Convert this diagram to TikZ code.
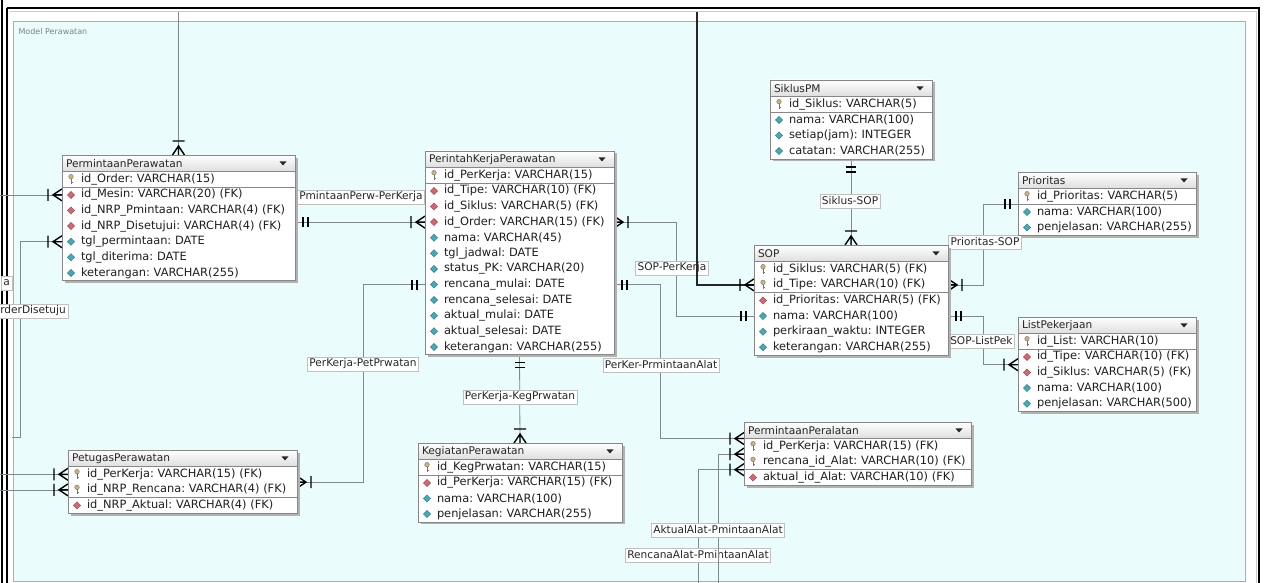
\documentclass[tikz,border=0pt]{standalone}
\usepackage{fontspec}
\setmainfont{DejaVu Sans}
\usetikzlibrary{positioning, fit, shadows}
\frenchspacing

\definecolor{modelbg}{RGB}{234,252,252}
\definecolor{framegray}{RGB}{170,176,176}
\definecolor{relgray}{RGB}{128,138,140}
\definecolor{boxgray}{RGB}{135,135,135}
\definecolor{fkred}{RGB}{205,105,115}
\definecolor{colteal}{RGB}{72,168,182}
\definecolor{keygold}{RGB}{200,180,120}

\pgfdeclarelayer{back}
\pgfdeclarelayer{edges}
\pgfdeclarelayer{boxes}
\pgfsetlayers{back,edges,boxes,main}

\tikzset{
  tablebox/.style={draw=boxgray, fill=white, inner sep=0pt, line width=0.8pt,
    drop shadow={shadow xshift=2.5pt, shadow yshift=-2.5pt, fill=black!30, opacity=1}},
  header/.style={anchor=north west, draw=boxgray, line width=0.8pt, top color=white, bottom color=black!13,
    minimum height=16.5pt, inner xsep=0pt, inner ysep=0pt, outer sep=0pt, align=left,
    font=\fontsize{10.6}{12}\selectfont, text=black!85,
    execute at begin node={\hspace*{4pt}},
    path picture={\fill[black!85] ([xshift=-12pt]path picture bounding box.east) +(-3.5,-1.8) -- +(3.5,-1.8) -- +(0,2.2) -- cycle;}},
  rowbase/.style={minimum height=15.6pt, inner xsep=0pt, inner ysep=0pt, outer sep=0pt, align=left,
    font=\fontsize{11.4}{13}\selectfont, text=black!88,
    execute at begin node={\hspace*{19pt}}},
  keyrow/.style={rowbase, path picture={
    \draw[black!55, line width=0.9pt] ([xshift=9pt,yshift=0.5pt]path picture bounding box.west) -- ++(0,5) ++(0,-1.6) -- ++(1.8,0);
    \filldraw[fill=keygold, draw=black!55, line width=0.4pt] ([xshift=9pt,yshift=2.6pt]path picture bounding box.west) circle[radius=2.3pt];}},
  fkrow/.style={rowbase, path picture={
    \filldraw[fill=fkred, draw=fkred!70!black, line width=0.4pt] ([xshift=9pt]path picture bounding box.west) +(-3.6,0) -- +(0,-3.6) -- +(3.6,0) -- +(0,3.6) -- cycle;}},
  colrow/.style={rowbase, path picture={
    \filldraw[fill=colteal, draw=colteal!70!black, line width=0.4pt] ([xshift=9pt]path picture bounding box.west) +(-3.6,0) -- +(0,-3.6) -- +(3.6,0) -- +(0,3.6) -- cycle;}},
  sepline/.style={draw=boxgray, line width=0.7pt},
  rel/.style={draw=relgray, line width=0.8pt},
  rlabel/.style={fill=white, draw=black!25, line width=0.5pt, inner xsep=2pt, inner ysep=1.5pt,
    minimum height=14.5pt, font=\fontsize{10.6}{12}\selectfont, text=black!85},
  ermark/.style={draw=black, line width=1.4pt},
  onlyone/.pic={\draw[ermark] (8,-5) -- (8,5) (13,-5) -- (13,5);},
  onemany/.pic={\draw[ermark] (0,-6) -- (9,0) -- (0,6) (0,0) -- (9,0) (14,-6) -- (14,6);}
}

\begin{document}
\begin{tikzpicture}[x=1pt, y=-1pt]
\useasboundingbox (0,0) rectangle (1266,583);

% The model area
\begin{pgfonlayer}{back}
\draw[black, line width=2pt] (7,8) -- (1259,8) -- (1259,600);
\draw[black, line width=2pt] (7,8) -- (7,600);
\draw[black, line width=1.6pt] (2,0) -- (2,600);
\draw[black!20, line width=1pt] (10,12) -- (1256,12) -- (1256,600);
\draw[framegray, fill=modelbg, line width=0.7pt] (13,21.5) rectangle (1245,581);
\node[anchor=north west, font=\fontsize{8}{10}\selectfont, text=black!50] (model) at (15,25) {Model Perawatan};
\end{pgfonlayer}

% PermintaanPerawatan
\begin{scope}[every node/.append style={text width=233pt}]
\node[header] (ppw) at (62,155) {PermintaanPerawatan};
\node[keyrow, below=0pt of ppw] (ppw-1) {id\_Order: VARCHAR(15)};
\node[fkrow, below=0pt of ppw-1] (ppw-2) {id\_Mesin: VARCHAR(20) (FK)};
\node[fkrow, below=0pt of ppw-2] (ppw-3) {id\_NRP\_Pmintaan: VARCHAR(4) (FK)};
\node[fkrow, below=0pt of ppw-3] (ppw-4) {id\_NRP\_Disetujui: VARCHAR(4) (FK)};
\node[colrow, below=0pt of ppw-4] (ppw-5) {tgl\_permintaan: DATE};
\node[colrow, below=0pt of ppw-5] (ppw-6) {tgl\_diterima: DATE};
\node[colrow, below=0pt of ppw-6] (ppw-7) {keterangan: VARCHAR(255)};
\end{scope}
\draw[sepline] (ppw-1.south west) -- (ppw-1.south east);
\begin{pgfonlayer}{boxes}
\node[tablebox, fit=(ppw)(ppw-7)] (ppw-box) {};
\end{pgfonlayer}

% PerintahKerjaPerawatan
\begin{scope}[every node/.append style={text width=189pt}]
\node[header] (pkp) at (425,151) {PerintahKerjaPerawatan};
\node[keyrow, below=0pt of pkp] (pkp-1) {id\_PerKerja: VARCHAR(15)};
\node[fkrow, below=0pt of pkp-1] (pkp-2) {id\_Tipe: VARCHAR(10) (FK)};
\node[fkrow, below=0pt of pkp-2] (pkp-3) {id\_Siklus: VARCHAR(5) (FK)};
\node[fkrow, below=0pt of pkp-3] (pkp-4) {id\_Order: VARCHAR(15) (FK)};
\node[colrow, below=0pt of pkp-4] (pkp-5) {nama: VARCHAR(45)};
\node[colrow, below=0pt of pkp-5] (pkp-6) {tgl\_jadwal: DATE};
\node[colrow, below=0pt of pkp-6] (pkp-7) {status\_PK: VARCHAR(20)};
\node[colrow, below=0pt of pkp-7] (pkp-8) {rencana\_mulai: DATE};
\node[colrow, below=0pt of pkp-8] (pkp-9) {rencana\_selesai: DATE};
\node[colrow, below=0pt of pkp-9] (pkp-10) {aktual\_mulai: DATE};
\node[colrow, below=0pt of pkp-10] (pkp-11) {aktual\_selesai: DATE};
\node[colrow, below=0pt of pkp-11] (pkp-12) {keterangan: VARCHAR(255)};
\end{scope}
\draw[sepline] (pkp-1.south west) -- (pkp-1.south east);
\begin{pgfonlayer}{boxes}
\node[tablebox, fit=(pkp)(pkp-12)] (pkp-box) {};
\end{pgfonlayer}

% SiklusPM
\begin{scope}[every node/.append style={text width=162pt}]
\node[header] (sik) at (770,80) {SiklusPM};
\node[keyrow, below=0pt of sik] (sik-1) {id\_Siklus: VARCHAR(5)};
\node[colrow, below=0pt of sik-1] (sik-2) {nama: VARCHAR(100)};
\node[colrow, below=0pt of sik-2] (sik-3) {setiap(jam): INTEGER};
\node[colrow, below=0pt of sik-3] (sik-4) {catatan: VARCHAR(255)};
\end{scope}
\draw[sepline] (sik-1.south west) -- (sik-1.south east);
\begin{pgfonlayer}{boxes}
\node[tablebox, fit=(sik)(sik-4)] (sik-box) {};
\end{pgfonlayer}

% SOP
\begin{scope}[every node/.append style={text width=194pt}]
\node[header] (sop) at (754,245) {SOP};
\node[keyrow, below=0pt of sop] (sop-1) {id\_Siklus: VARCHAR(5) (FK)};
\node[keyrow, below=0pt of sop-1] (sop-2) {id\_Tipe: VARCHAR(10) (FK)};
\node[fkrow, below=0pt of sop-2] (sop-3) {id\_Prioritas: VARCHAR(5) (FK)};
\node[colrow, below=0pt of sop-3] (sop-4) {nama: VARCHAR(100)};
\node[colrow, below=0pt of sop-4] (sop-5) {perkiraan\_waktu: INTEGER};
\node[colrow, below=0pt of sop-5] (sop-6) {keterangan: VARCHAR(255)};
\end{scope}
\draw[sepline] (sop-2.south west) -- (sop-2.south east);
\begin{pgfonlayer}{boxes}
\node[tablebox, fit=(sop)(sop-6)] (sop-box) {};
\end{pgfonlayer}

% Prioritas
\begin{scope}[every node/.append style={text width=178pt}]
\node[header] (pri) at (1018,172) {Prioritas};
\node[keyrow, below=0pt of pri] (pri-1) {id\_Prioritas: VARCHAR(5)};
\node[colrow, below=0pt of pri-1] (pri-2) {nama: VARCHAR(100)};
\node[colrow, below=0pt of pri-2] (pri-3) {penjelasan: VARCHAR(255)};
\end{scope}
\draw[sepline] (pri-1.south west) -- (pri-1.south east);
\begin{pgfonlayer}{boxes}
\node[tablebox, fit=(pri)(pri-3)] (pri-box) {};
\end{pgfonlayer}

% ListPekerjaan
\begin{scope}[every node/.append style={text width=178pt}]
\node[header] (lpk) at (1018,317) {ListPekerjaan};
\node[keyrow, below=0pt of lpk] (lpk-1) {id\_List: VARCHAR(10)};
\node[fkrow, below=0pt of lpk-1] (lpk-2) {id\_Tipe: VARCHAR(10) (FK)};
\node[fkrow, below=0pt of lpk-2] (lpk-3) {id\_Siklus: VARCHAR(5) (FK)};
\node[colrow, below=0pt of lpk-3] (lpk-4) {nama: VARCHAR(100)};
\node[colrow, below=0pt of lpk-4] (lpk-5) {penjelasan: VARCHAR(500)};
\end{scope}
\draw[sepline] (lpk-1.south west) -- (lpk-1.south east);
\begin{pgfonlayer}{boxes}
\node[tablebox, fit=(lpk)(lpk-5)] (lpk-box) {};
\end{pgfonlayer}

% PermintaanPeralatan
\begin{scope}[every node/.append style={text width=227pt}]
\node[header] (ppl) at (744,422) {PermintaanPeralatan};
\node[keyrow, below=0pt of ppl] (ppl-1) {id\_PerKerja: VARCHAR(15) (FK)};
\node[keyrow, below=0pt of ppl-1] (ppl-2) {rencana\_id\_Alat: VARCHAR(10) (FK)};
\node[fkrow, below=0pt of ppl-2] (ppl-3) {aktual\_id\_Alat: VARCHAR(10) (FK)};
\end{scope}
\draw[sepline] (ppl-2.south west) -- (ppl-2.south east);
\begin{pgfonlayer}{boxes}
\node[tablebox, fit=(ppl)(ppl-3)] (ppl-box) {};
\end{pgfonlayer}

% KegiatanPerawatan
\begin{scope}[every node/.append style={text width=204pt}]
\node[header] (kgp) at (418,443) {KegiatanPerawatan};
\node[keyrow, below=0pt of kgp] (kgp-1) {id\_KegPrwatan: VARCHAR(15)};
\node[fkrow, below=0pt of kgp-1] (kgp-2) {id\_PerKerja: VARCHAR(15) (FK)};
\node[colrow, below=0pt of kgp-2] (kgp-3) {nama: VARCHAR(100)};
\node[colrow, below=0pt of kgp-3] (kgp-4) {penjelasan: VARCHAR(255)};
\end{scope}
\draw[sepline] (kgp-1.south west) -- (kgp-1.south east);
\begin{pgfonlayer}{boxes}
\node[tablebox, fit=(kgp)(kgp-4)] (kgp-box) {};
\end{pgfonlayer}

% PetugasPerawatan
\begin{scope}[every node/.append style={text width=229pt}]
\node[header] (ptg) at (68,450) {PetugasPerawatan};
\node[keyrow, below=0pt of ptg] (ptg-1) {id\_PerKerja: VARCHAR(15) (FK)};
\node[keyrow, below=0pt of ptg-1] (ptg-2) {id\_NRP\_Rencana: VARCHAR(4) (FK)};
\node[fkrow, below=0pt of ptg-2] (ptg-3) {id\_NRP\_Aktual: VARCHAR(4) (FK)};
\end{scope}
\draw[sepline] (ptg-2.south west) -- (ptg-2.south east);
\begin{pgfonlayer}{boxes}
\node[tablebox, fit=(ptg)(ptg-3)] (ptg-box) {};
\end{pgfonlayer}

% The relationships
\begin{pgfonlayer}{edges}
\coordinate (edgeL) at (-5,0);
\coordinate (offtop) at (0,12);
\coordinate (edgeD) at (12,437);
\coordinate (tipe) at (697,12);
\coordinate (aktualEnd) at (698,590);
\coordinate (rencanaEnd) at (718,590);

% PermintaanPerawatan to the outside
\draw[rel] (ppw.north) -- (ppw.north |- offtop);
\pic[rotate=90] at (ppw.north) {onemany};
\draw[rel] (ppw-2.west) -- (ppw-2.west -| edgeL);
\pic[rotate=180] at (ppw-2.west) {onemany};
\draw[rel] (ppw-5.west) -- ++(-42,0) |- (edgeD);
\pic[rotate=180] at (ppw-5.west) {onemany};
\node[rlabel, anchor=east] (lb-a) at (12,283) {a};
\node[rlabel, anchor=east] (lb-ord) at (68,311) {rderDisetuju};

% PmintaanPerw-PerKerja
\draw[rel] (pkp-4.west -| ppw.east) -- (pkp-4.west);
\pic at (pkp-4.west -| ppw.east) {onlyone};
\pic[rotate=180] at (pkp-4.west) {onemany};
\node[rlabel, anchor=west] (lb-pp) at (297,197) {PmintaanPerw-PerKerja};

% PerKerja-PetPrwatan
\draw[rel] (pkp-8.west) -- ++(-62,0) |- (ptg-1.south east);
\pic[rotate=180] at (pkp-8.west) {onlyone};
\pic at (ptg-1.south east) {onemany};
\node[rlabel] (lb-pet) at (363,364) {PerKerja-PetPrwatan};

% PerKerja-KegPrwatan
\draw[rel] (pkp-12.south) -- (kgp.north);
\pic[rotate=-90] at (pkp-12.south) {onlyone};
\pic[rotate=90] at (kgp.north) {onemany};
\node[rlabel] (lb-keg) at (520,397) {PerKerja-KegPrwatan};

% SOP-PerKerja
\draw[rel] (pkp-4.east) -- ++(62,0) |- (sop-4.west);
\pic at (pkp-4.east) {onemany};
\pic[rotate=180] at (sop-4.west) {onlyone};
\node[rlabel] (lb-sopk) at (672,268) {SOP-PerKerja};

% Tipe to SOP
\draw[black!85, line width=1.3pt] (tipe) |- (sop-2.west);
\pic[rotate=180] at (sop-2.west) {onemany};

% PerKer-PrmintaanAlat
\draw[rel] (pkp-8.east) -- ++(46,0) |- (ppl.south west);
\pic at (pkp-8.east) {onlyone};
\pic[rotate=180] at (ppl.south west) {onemany};
\node[rlabel] (lb-alat) at (661,365) {PerKer-PrmintaanAlat};

% Alat links from below
\draw[rel] (ppl-2.south west) -| (aktualEnd);
\pic[rotate=180] at (ppl-2.south west) {onemany};
\node[rlabel] (lb-ren) at (698,555) {RencanaAlat-PmintaanAlat};
\draw[rel] (ppl-1.south west) -| (rencanaEnd);
\pic[rotate=180] at (ppl-1.south west) {onemany};
\node[rlabel] (lb-akt) at (718,530) {AktualAlat-PmintaanAlat};

% Siklus-SOP
\draw[rel] (sik-4.south) -- (sop.north);
\pic[rotate=-90] at (sik-4.south) {onlyone};
\pic[rotate=90] at (sop.north) {onemany};
\node[rlabel] (lb-sik) at (850,201) {Siklus-SOP};

% Prioritas-SOP
\draw[rel] (sop-2.east) -- ++(35,0) |- (pri-1.south west);
\pic at (sop-2.east) {onemany};
\pic[rotate=180] at (pri-1.south west) {onlyone};
\node[rlabel] (lb-pri) at (985,242) {Prioritas-SOP};

% SOP-ListPek
\draw[rel] (sop-4.east) -- ++(35,0) |- (lpk-2.south west);
\pic at (sop-4.east) {onlyone};
\pic[rotate=180] at (lpk-2.south west) {onemany};
\node[rlabel, anchor=west] (lb-lpk) at (948,341) {SOP-ListPek};

% PetugasPerawatan to the outside
\draw[rel] (ptg-1.west) -- (ptg-1.west -| edgeL);
\pic[rotate=180] at (ptg-1.west) {onemany};
\draw[rel] (ptg-2.west) -- (ptg-2.west -| edgeL);
\pic[rotate=180] at (ptg-2.west) {onemany};
\end{pgfonlayer}

\end{tikzpicture}
\end{document}
